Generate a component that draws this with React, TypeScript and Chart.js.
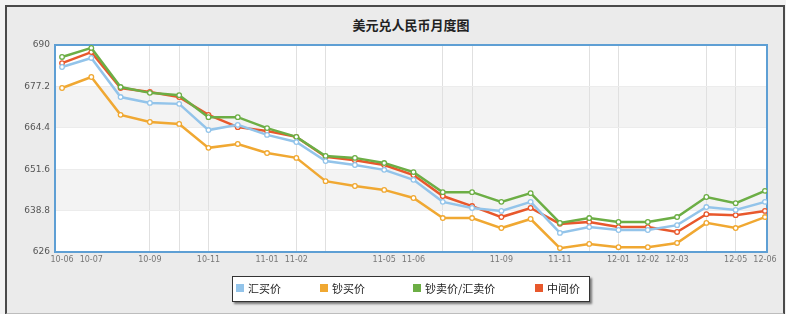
import React, { useEffect, useRef } from "react";
import { Chart, registerables } from "chart.js";

Chart.register(...registerables);

const months = [
  "10-06", "10-07", "10-08", "10-09", "10-10", "10-11", "10-12",
  "11-01", "11-02", "11-03", "11-04", "11-05", "11-06", "11-07",
  "11-08", "11-09", "11-10", "11-11", "11-12", "12-01", "12-02",
  "12-03", "12-04", "12-05", "12-06",
];

const seriesNames = ["汇买价", "钞买价", "钞卖价/汇卖价", "中间价"];

const huiMai = [683.2, 686.0, 673.9, 672.1, 671.8, 663.7, 665.3, 662.2, 660.0, 654.1, 652.9, 651.4, 648.3, 641.5, 639.6, 638.7, 641.5, 631.9, 633.7, 632.8, 632.8, 634.3, 639.9, 639.0, 641.5];
const chaoMai = [676.7, 680.1, 668.4, 666.2, 665.6, 658.2, 659.4, 656.6, 655.1, 647.9, 646.4, 645.2, 642.7, 636.5, 636.5, 633.4, 636.2, 627.2, 628.5, 627.5, 627.5, 628.8, 635.0, 633.4, 636.8];
const maiChu = [686.3, 689.1, 677.0, 675.2, 674.5, 667.7, 667.7, 664.3, 661.6, 655.7, 655.1, 653.5, 650.7, 644.5, 644.5, 641.5, 644.2, 635.0, 636.5, 635.3, 635.3, 636.8, 643.0, 641.1, 644.9];
const zhongJian = [684.4, 687.8, 676.7, 675.5, 673.9, 668.4, 664.6, 663.4, 661.6, 655.4, 654.4, 652.9, 649.8, 643.3, 640.2, 636.8, 639.6, 634.7, 635.3, 633.7, 633.7, 632.2, 637.7, 637.4, 638.7];

const yTicks = [626, 638.8, 651.6, 664.4, 677.2, 690];
const labelIdx = [0, 1, 3, 5, 7, 8, 11, 12, 15, 17, 19, 20, 21, 23, 24];
const gridIdx = [3, 4, 5, 8, 9, 13, 14, 18, 19, 22, 23];

const colors = ["#93c4ea", "#f0a832", "#6cae45", "#e8582c"];

export default function App() {
  const ref = useRef<HTMLCanvasElement | null>(null);

  useEffect(() => {
    if (!ref.current) return;
    const allSeries = [huiMai, chaoMai, maiChu, zhongJian];
    const tickSet = Array.from(new Set([...labelIdx, ...gridIdx])).sort((a, b) => a - b);

    const bgPlugin = {
      id: "bgbands",
      beforeDraw(chart: any) {
        const { ctx, chartArea } = chart;
        const y = chart.scales.y;
        ctx.save();
        ctx.fillStyle = "#ffffff";
        ctx.fillRect(chartArea.left, chartArea.top, chartArea.right - chartArea.left, chartArea.bottom - chartArea.top);
        for (let i = 0; i < yTicks.length - 1; i++) {
          const top = y.getPixelForValue(yTicks[yTicks.length - 1 - i]);
          const bot = y.getPixelForValue(yTicks[yTicks.length - 2 - i]);
          if (i % 2 === 1) {
            ctx.fillStyle = "#f3f3f3";
            ctx.fillRect(chartArea.left, top, chartArea.right - chartArea.left, bot - top);
          }
        }
        ctx.restore();
      },
      beforeDatasetsDraw(chart: any) {
        const { ctx, chartArea } = chart;
        ctx.save();
        ctx.strokeStyle = "#5e9fd4";
        ctx.lineWidth = 2;
        ctx.strokeRect(chartArea.left, chartArea.top, chartArea.right - chartArea.left, chartArea.bottom - chartArea.top);
        ctx.restore();
      },
    };

    const chart = new Chart(ref.current, {
      type: "line",
      data: {
        datasets: allSeries.map((s, k) => ({
          label: seriesNames[k],
          data: s.map((v, i) => ({ x: i, y: v })),
          borderColor: colors[k],
          backgroundColor: "#ffffff",
          borderWidth: 2.5,
          pointRadius: 2.3,
          pointBorderWidth: 1.3,
          pointBackgroundColor: "#ffffff",
          pointBorderColor: colors[k],
          tension: 0,
          fill: false,
        })),
      },
      options: {
        responsive: false,
        animation: false,
        layout: { padding: { left: 5, right: 19, top: 45, bottom: 44 } },
        plugins: {
          legend: { display: false },
          title: { display: false },
          tooltip: { enabled: false },
        },
        scales: {
          x: {
            type: "linear",
            min: -0.24,
            max: 24.07,
            afterBuildTicks(scale: any) {
              scale.ticks = tickSet.map((v) => ({ value: v }));
            },
            afterFit(scale: any) {
              scale.height = 18;
            },
            ticks: {
              autoSkip: false,
              maxRotation: 0,
              font: { size: 8, family: "DejaVu Sans" },
              color: "#777",
              callback(value: any) {
                return labelIdx.includes(Number(value)) ? months[Number(value)] : "";
              },
            },
            grid: {
              color(ctx: any) {
                const v = ctx.tick ? ctx.tick.value : -1;
                return gridIdx.includes(v) ? "#e0e0e0" : "rgba(0,0,0,0)";
              },
              drawTicks: false,
            },
            border: { display: false },
          },
          y: {
            min: 626,
            max: 690,
            afterBuildTicks(scale: any) {
              scale.ticks = yTicks.map((v) => ({ value: v }));
            },
            afterFit(scale: any) {
              scale.width = 50;
            },
            ticks: {
              font: { size: 9, family: "DejaVu Sans" },
              color: "#555",
              padding: 5,
              callback(value: any) {
                const n = Number(value);
                return Number.isInteger(n) ? String(n) : n.toFixed(1);
              },
            },
            grid: { color: "#ececec", drawTicks: false },
            border: { display: false },
          },
        },
      },
      plugins: [bgPlugin],
    });
    return () => chart.destroy();
  }, []);

  const legendItems = [
    { x: 236, w: 80 },
    { x: 320, w: 90 },
    { x: 413, w: 120 },
    { x: 535, w: 55 },
  ];

  return (
    <div style={{ position: "fixed", left: 0, top: 0, width: 786, height: 314, background: "#f3f3f3", overflow: "hidden", fontFamily: "'Noto Sans CJK SC', sans-serif" }}>
      <div style={{ position: "absolute", left: 5, top: 5, width: 776, height: 306, background: "#ebebeb", border: "2px solid #4a4a4a", borderBottomColor: "#bdbdbd" }} />
      <div style={{ position: "absolute", left: 300, top: 15, width: 222, textAlign: "center", fontSize: 13, fontWeight: 700, color: "#222" }}>
        美元兑人民币月度图
      </div>
      <canvas ref={ref} width={786} height={314} style={{ position: "absolute", left: 0, top: 0 }} />
      <div style={{ position: "absolute", left: 232, top: 276, width: 356, height: 24, background: "#ffffff", border: "1px solid #333", boxShadow: "2px 2px 2px #777" }} />
      {legendItems.map((it, k) => (
        <div key={k} style={{ position: "absolute", left: it.x, top: 280, height: 16, display: "flex", alignItems: "center", fontSize: 11, color: "#222", whiteSpace: "nowrap" }}>
          <span style={{ display: "inline-block", width: 8, height: 8, background: colors[k], marginRight: 4 }} />
          {seriesNames[k]}
        </div>
      ))}
    </div>
  );
}
